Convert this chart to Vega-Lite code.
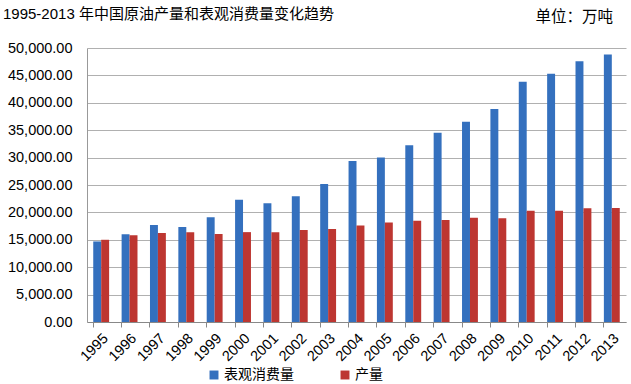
{
  "$schema": "https://vega.github.io/schema/vega-lite/v6.json",
  "width": 539,
  "height": 274,
  "autosize": "none",
  "padding": {"left": 87, "top": 48, "right": 5, "bottom": 62},
  "background": "white",
  "title": {
    "text": "1995-2013 年中国原油产量和表观消费量变化趋势",
    "anchor": "start",
    "frame": "group",
    "dx": -84,
    "offset": -13,
    "fontSize": 15,
    "fontWeight": "normal",
    "font": "Liberation Sans, Noto Sans CJK SC",
    "color": "#000000"
  },
  "config": {
    "view": {"stroke": null},
    "font": "Liberation Sans, Noto Sans CJK SC"
  },
  "data": {
    "values": [
      {"year": "1995", "series": "表观消费量", "value": 14700},
      {"year": "1996", "series": "表观消费量", "value": 16000},
      {"year": "1997", "series": "表观消费量", "value": 17700},
      {"year": "1998", "series": "表观消费量", "value": 17350},
      {"year": "1999", "series": "表观消费量", "value": 19100},
      {"year": "2000", "series": "表观消费量", "value": 22300},
      {"year": "2001", "series": "表观消费量", "value": 21650},
      {"year": "2002", "series": "表观消费量", "value": 22950},
      {"year": "2003", "series": "表观消费量", "value": 25200},
      {"year": "2004", "series": "表观消费量", "value": 29400},
      {"year": "2005", "series": "表观消费量", "value": 30000},
      {"year": "2006", "series": "表观消费量", "value": 32250},
      {"year": "2007", "series": "表观消费量", "value": 34550},
      {"year": "2008", "series": "表观消费量", "value": 36550},
      {"year": "2009", "series": "表观消费量", "value": 38850},
      {"year": "2010", "series": "表观消费量", "value": 43850},
      {"year": "2011", "series": "表观消费量", "value": 45300},
      {"year": "2012", "series": "表观消费量", "value": 47600},
      {"year": "2013", "series": "表观消费量", "value": 48800},
      {"year": "1995", "series": "产量", "value": 15005},
      {"year": "1996", "series": "产量", "value": 15850},
      {"year": "1997", "series": "产量", "value": 16260},
      {"year": "1998", "series": "产量", "value": 16400},
      {"year": "1999", "series": "产量", "value": 16080},
      {"year": "2000", "series": "产量", "value": 16400},
      {"year": "2001", "series": "产量", "value": 16400},
      {"year": "2002", "series": "产量", "value": 16800},
      {"year": "2003", "series": "产量", "value": 16960},
      {"year": "2004", "series": "产量", "value": 17590},
      {"year": "2005", "series": "产量", "value": 18135},
      {"year": "2006", "series": "产量", "value": 18480},
      {"year": "2007", "series": "产量", "value": 18630},
      {"year": "2008", "series": "产量", "value": 19040},
      {"year": "2009", "series": "产量", "value": 18950},
      {"year": "2010", "series": "产量", "value": 20300},
      {"year": "2011", "series": "产量", "value": 20290},
      {"year": "2012", "series": "产量", "value": 20750},
      {"year": "2013", "series": "产量", "value": 20810}
    ]
  },
  "mark": {"type": "bar"},
  "encoding": {
    "x": {
      "field": "year",
      "type": "ordinal",
      "scale": {"paddingInner": 0.44, "paddingOuter": 0.22},
      "axis": {
        "title": null,
        "labelAngle": -45,
        "labelFontSize": 14.5,
        "labelColor": "#000000",
        "labelPadding": 4,
        "bandPosition": 0,
        "tickSize": 5,
        "tickColor": "#888888",
        "domainColor": "#888888",
        "grid": false
      }
    },
    "xOffset": {
      "field": "series",
      "type": "nominal",
      "sort": ["表观消费量", "产量"]
    },
    "y": {
      "field": "value",
      "type": "quantitative",
      "scale": {"domain": [0, 50000], "nice": false},
      "axis": {
        "title": "单位：万吨",
        "titleAngle": 0,
        "titleX": 448,
        "titleY": -32,
        "titleAlign": "left",
        "titleBaseline": "middle",
        "titleFontSize": 15.5,
        "titleFontWeight": "normal",
        "titleColor": "#000000",
        "values": [0, 5000, 10000, 15000, 20000, 25000, 30000, 35000, 40000, 45000, 50000],
        "format": ",.2f",
        "labelFontSize": 14.5,
        "labelColor": "#000000",
        "labelPadding": 15,
        "ticks": false,
        "domainColor": "#999999",
        "gridColor": "#b0b0b0"
      }
    },
    "color": {
      "field": "series",
      "type": "nominal",
      "sort": ["表观消费量", "产量"],
      "scale": {"domain": ["表观消费量", "产量"], "range": ["#3470be", "#bd3631"]},
      "legend": {
        "title": null,
        "orient": "none",
        "direction": "horizontal",
        "legendX": 120,
        "legendY": 320,
        "symbolType": "square",
        "symbolSize": 80,
        "labelFontSize": 14,
        "labelColor": "#000000",
        "columnPadding": 44,
        "labelOffset": 3
      }
    }
  }
}
